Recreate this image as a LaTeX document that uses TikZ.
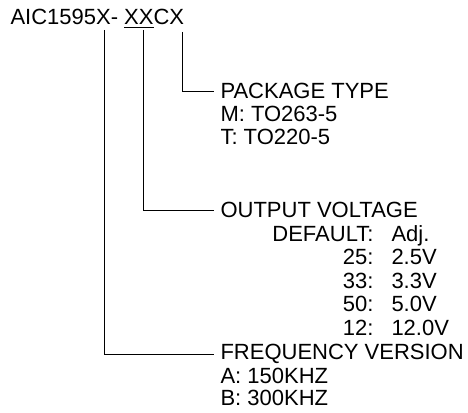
\documentclass[tikz,border=0pt]{standalone}
\usepackage{fontspec}
\setmainfont{Liberation Sans}
\begin{document}
\begin{tikzpicture}[x=0.75pt,y=-0.75pt,line width=0.75pt,
  head node/.style={anchor=base west,inner xsep=4.5pt,inner ysep=0pt},
  item node/.style={anchor=base west,inner sep=0pt},
  code node/.style={anchor=base east,inner sep=0pt}]%
\useasboundingbox (0,0) rectangle (468,413);
\begin{scope}[every node/.style={font=\fontsize{16.5}{19}\selectfont}]
\node[item node] (part) at (10,25) {AIC1595X- \underline{XX}CX};
% package type
\node[head node] (pkg) at (214,99) {PACKAGE TYPE};
\node[item node] (pkgm) at (220,122) {M: TO263-5};
\node[item node] (pkgt) at (220,145) {T: TO220-5};
% output voltage
\node[head node] (vout) at (214,218) {OUTPUT VOLTAGE};
\node[code node] (vdef) at (374,242) {DEFAULT:};
\node[item node] (vdefv) at (391,242) {Adj.};
\node[code node] (v25) at (374,265) {25:};
\node[item node] (v25v) at (391,265) {2.5V};
\node[code node] (v33) at (374,289) {33:};
\node[item node] (v33v) at (391,289) {3.3V};
\node[code node] (v50) at (374,312) {50:};
\node[item node] (v50v) at (391,312) {5.0V};
\node[code node] (v12) at (374,336) {12:};
\node[item node] (v12v) at (391,336) {12.0V};
% frequency version
\node[head node] (freq) at (214,360) {FREQUENCY VERSION};
\node[item node] (freqa) at (220,383) {A: 150KHZ};
\node[item node] (freqb) at (220,406) {B: 300KHZ};
\end{scope}
\coordinate (ftop) at (104,30);
\coordinate (vtop) at (143,30);
\coordinate (ptop) at (182,32);
\begin{scope}[every path/.style={draw=black}]
\draw (ptop) |- (pkg.west);
\draw (vtop) |- (vout.west);
\draw (ftop) |- (freq.west);
\end{scope}
\end{tikzpicture}
\end{document}
